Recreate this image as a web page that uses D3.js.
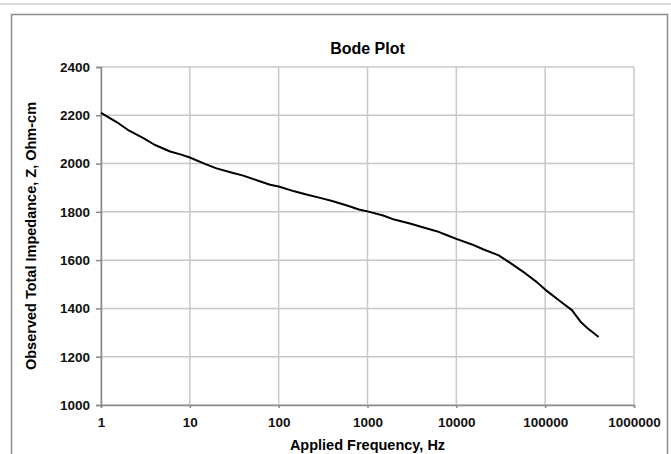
<!DOCTYPE html>
<html>
<head>
<meta charset="utf-8">
<script src="https://cdn.jsdelivr.net/npm/d3@7"></script>
<style>
  body { margin: 0; background: #fff; }
  svg { display: block; font-family: "Liberation Sans", Arial, sans-serif; }
</style>
</head>
<body>
<svg id="chart" width="671" height="454"></svg>
<script>
// measured frequency (Hz) and impedance (Ohm-cm)
var freqs = [1, 1.5, 2, 3, 4, 6, 8, 10, 15, 20, 30, 40, 60, 80, 100, 150, 200, 300, 400, 600, 800,
    1000, 1500, 2000, 3000, 4000, 6000, 8000, 10000, 15000, 20000, 30000, 40000, 60000, 80000,
    100000, 150000, 200000, 250000, 300000, 400000];
var impedance = [2210, 2172, 2140, 2105, 2078, 2050, 2037, 2025, 1998, 1980, 1962, 1950, 1928, 1912,
    1905, 1885, 1873, 1857, 1845, 1825, 1810, 1802, 1785, 1768, 1752, 1738, 1720, 1702, 1688,
    1665, 1645, 1620, 1590, 1545, 1510, 1478, 1428, 1393, 1345, 1318, 1282];
var xTicks = [1, 10, 100, 1000, 10000, 100000, 1000000];
var yTicks = [1000, 1200, 1400, 1600, 1800, 2000, 2200, 2400];

var margin = { top: 67, right: 37, bottom: 49, left: 101 },
    width = 671 - margin.left - margin.right,
    height = 454 - margin.top - margin.bottom

var svg = d3.select("#chart")

// frame around the chart
svg.append("line")
    .attr("x1", 0).attr("x2", 671).attr("y1", 4).attr("y2", 4)
    .attr("stroke", "#dcdcdc").attr("stroke-width", 2)
svg.append("rect")
    .attr("x", 11.5).attr("y", 14.5)
    .attr("width", 656).attr("height", 460)
    .attr("fill", "none").attr("stroke", "#8c8c8c").attr("stroke-width", 1.5)

var g = svg.append("g")
    .attr("transform", "translate(" + margin.left + "," + margin.top + ")")

var x = d3.scaleLog().domain([1, 1000000]).range([0, width])
var y = d3.scaleLinear().domain([1000, 2400]).range([height, 0])

// grid
g.selectAll(".hgrid")
    .data(yTicks)
    .enter().append("line")
    .attr("x1", 0).attr("x2", width)
    .attr("y1", function (d) { return y(d); })
    .attr("y2", function (d) { return y(d); })
    .attr("stroke", "#c8c8c8").attr("stroke-width", 1.5)

g.selectAll(".vgrid")
    .data(xTicks)
    .enter().append("line")
    .attr("x1", function (d) { return x(d); })
    .attr("x2", function (d) { return x(d); })
    .attr("y1", 0).attr("y2", height)
    .attr("stroke", "#c8c8c8").attr("stroke-width", 1.5)

// axes
var xAxis = g.append("g")
    .attr("transform", "translate(0," + height + ")")
    .call(d3.axisBottom(x).tickValues(xTicks).tickFormat(d3.format("d")).tickSize(3).tickPadding(9))
var yAxis = g.append("g")
    .call(d3.axisLeft(y).tickValues(yTicks).tickFormat(d3.format("d")).tickSize(5).tickPadding(6))

;[xAxis, yAxis].forEach(function (a) {
    a.select(".domain").attr("stroke", "#8a8a8a").attr("stroke-width", 1.5)
    a.selectAll(".tick line").attr("stroke", "#8a8a8a").attr("stroke-width", 1.5)
    a.selectAll("text")
        .attr("fill", "#111")
        .style("font-size", "13.5px")
        .style("font-weight", "bold")
        .style("font-family", "Liberation Sans, Arial, sans-serif")
})

// impedance curve
var line = d3.line()
    .x(function (d, i) { return x(freqs[i]); })
    .y(function (d) { return y(d); })

g.append("path")
    .datum(impedance)
    .attr("d", line)
    .attr("fill", "none")
    .attr("stroke", "#000")
    .attr("stroke-width", 2)
    .attr("stroke-linejoin", "round")

// titles
svg.append("text")
    .attr("x", margin.left + width / 2).attr("y", 54)
    .attr("text-anchor", "middle")
    .style("font-size", "16px").style("font-weight", "bold")
    .text("Bode Plot")

svg.append("text")
    .attr("x", margin.left + width / 2).attr("y", 450)
    .attr("text-anchor", "middle")
    .style("font-size", "14.5px").style("font-weight", "bold")
    .text("Applied Frequency, Hz")

svg.append("text")
    .attr("transform", "translate(36," + (margin.top + height / 2) + ") rotate(-90)")
    .attr("text-anchor", "middle")
    .style("font-size", "14.5px").style("font-weight", "bold")
    .text("Observed Total Impedance, Z, Ohm-cm")
</script>
</body>
</html>
